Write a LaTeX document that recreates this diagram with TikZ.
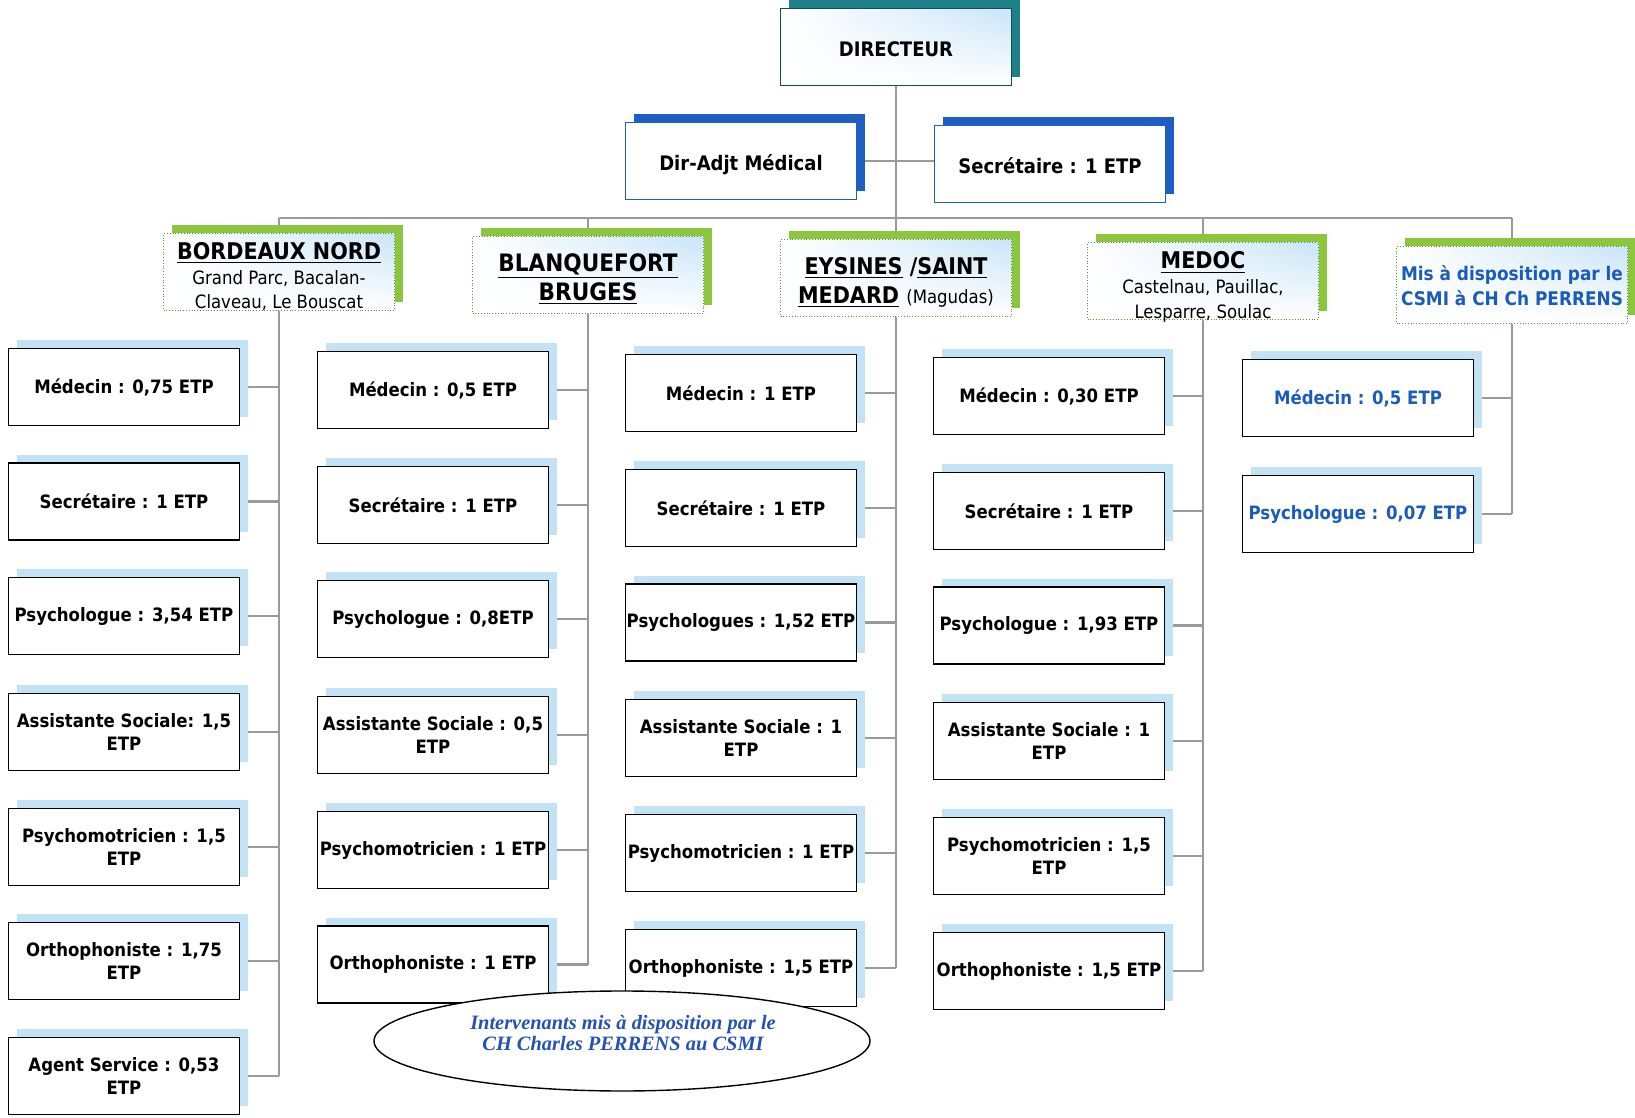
\documentclass[tikz,border=0pt]{standalone}
\usepackage{fontspec}
\setmainfont{DejaVu Sans Condensed}
\newfontfamily\noteserif{Liberation Serif}
\usetikzlibrary{shapes.geometric,shadows,shadings,backgrounds}

\definecolor{linkgray}{HTML}{9A9A9A}
\definecolor{dirteal}{HTML}{1E8088}
\definecolor{adjblue}{HTML}{1F5FC4}
\definecolor{sitegreen}{HTML}{8CC63F}
\definecolor{staffsky}{HTML}{C2E2F6}
\definecolor{tintblue}{HTML}{C9E4F8}
\definecolor{textblue}{HTML}{1A5CB8}
\definecolor{noteblue}{HTML}{2452B2}

% text set lower in its box, box size kept
\newcommand{\lowered}[2][3pt]{\raisebox{-#1}[\height][\depth]{\begin{tabular}{@{}c@{}}#2\end{tabular}}}

\begin{document}
\begin{tikzpicture}[x=0.5pt, y=-0.5pt,
		box/.style={minimum width=115.5pt, minimum height=38.5pt, inner xsep=0pt, inner ysep=0pt, align=center},
		staffbox/.style={box, draw=black, line width=0.7pt, fill=white, font=\bfseries\fontsize{9.2}{11.8}\selectfont,
			copy shadow={shadow xshift=4.2pt, shadow yshift=4.2pt, draw=none, fill=staffsky}},
		dirbox/.style={box, draw=dirteal!60!black, line width=0.5pt, upper right=tintblue, upper left=white, lower left=white, lower right=white,
			font=\bfseries\fontsize{10}{12}\selectfont,
			copy shadow={shadow xshift=4.2pt, shadow yshift=4.2pt, draw=none, fill=dirteal}},
		adjbox/.style={box, draw=adjblue, line width=0.5pt, fill=white, font=\bfseries\fontsize{10}{12}\selectfont,
			copy shadow={shadow xshift=4.2pt, shadow yshift=4.2pt, draw=none, fill=adjblue}},
		sitebox/.style={box, draw=sitegreen!70!black, densely dotted, line width=0.4pt, upper right=tintblue, upper left=white, lower left=white, lower right=white,
			font=\fontsize{9.2}{12.3}\selectfont,
			copy shadow={shadow xshift=4.2pt, shadow yshift=4.2pt, draw=none, fill=sitegreen, solid}},
		link/.style={draw=linkgray, line width=1.4pt},
		notebox/.style={shape=ellipse, draw=black, line width=0.7pt, fill=white, minimum width=248pt, minimum height=50pt},
		notetext/.style={align=center, text=noteblue, font=\noteserif\bfseries\itshape\fontsize{10.2}{10.5}\selectfont}]
	\useasboundingbox (0,0) rectangle (1635,1118);
	\clip (0,0) rectangle (1635,1118);
	
	% direction
	\node[dirbox] (dir) at (896,47) {\lowered[2.6pt]{DIRECTEUR}};
	\node[adjbox] (adj) at (741,161) {\lowered[2.2pt]{Dir-Adjt Médical}};
	\node[adjbox] (sec) at (1050,164) {\lowered[2.2pt]{Secrétaire : 1 ETP}};
	\coordinate (bus) at (896,218);
	
	% sites
	\node[sitebox] (bn) at (279,272) {\lowered[3.6pt]{{\bfseries\fontsize{11.5}{12.5}\selectfont\underline{BORDEAUX NORD}}\\Grand Parc, Bacalan-\\Claveau, Le Bouscat}};
	\node[sitebox, font=\bfseries\fontsize{12}{14.6}\selectfont] (bl) at (588,275) {\lowered[2.5pt]{\underline{BLANQUEFORT}\\\underline{BRUGES}}};
	\node[sitebox, font=\bfseries\fontsize{11.5}{14.6}\selectfont] (ey) at (896,278) {\lowered[2.5pt]{\underline{EYSINES} /\underline{SAINT}\\\underline{MEDARD} {\mdseries\fontsize{9.2}{12}\selectfont(Magudas)}}};
	\node[sitebox] (md) at (1203,281) {\lowered[3.8pt]{{\bfseries\fontsize{11.5}{12.5}\selectfont\underline{MEDOC}}\\Castelnau, Pauillac,\\Lesparre, Soulac}};
	\node[sitebox, text=textblue, font=\bfseries\fontsize{9.4}{12.6}\selectfont] (mi) at (1512,285) {\lowered[1.6pt]{Mis à disposition par le\\CSMI à CH Ch PERRENS}};
	
	% BORDEAUX NORD
	\node[staffbox] (bn1) at (124,387) {Médecin : 0,75 ETP};
	\node[staffbox] (bn2) at (124,501.5) {Secrétaire : 1 ETP};
	\node[staffbox] (bn3) at (124,616) {Psychologue : 3,54 ETP};
	\node[staffbox] (bn4) at (124,732) {Assistante Sociale: 1,5\\ETP};
	\node[staffbox] (bn5) at (124,847) {Psychomotricien : 1,5\\ETP};
	\node[staffbox] (bn6) at (124,961) {Orthophoniste : 1,75\\ETP};
	\node[staffbox] (bn7) at (124,1076) {Agent Service : 0,53\\ETP};
	
	% BLANQUEFORT BRUGES
	\node[staffbox] (bl1) at (433,390) {Médecin : 0,5 ETP};
	\node[staffbox] (bl2) at (433,505) {Secrétaire : 1 ETP};
	\node[staffbox] (bl3) at (433,619) {Psychologue : 0,8ETP};
	\node[staffbox] (bl4) at (433,735) {Assistante Sociale : 0,5\\ETP};
	\node[staffbox] (bl5) at (433,850) {Psychomotricien : 1 ETP};
	\node[staffbox] (bl6) at (433,964.5) {Orthophoniste : 1 ETP};
	
	% EYSINES / SAINT MEDARD
	\node[staffbox] (ey1) at (741,393) {Médecin : 1 ETP};
	\node[staffbox] (ey2) at (741,508) {Secrétaire : 1 ETP};
	\node[staffbox] (ey3) at (741,622.5) {Psychologues : 1,52 ETP};
	\node[staffbox] (ey4) at (741,738) {Assistante Sociale : 1\\ETP};
	\node[staffbox] (ey5) at (741,853) {Psychomotricien : 1 ETP};
	\node[staffbox] (ey6) at (741,968) {Orthophoniste : 1,5 ETP};
	
	% MEDOC
	\node[staffbox] (md1) at (1049,396) {Médecin : 0,30 ETP};
	\node[staffbox] (md2) at (1049,511) {Secrétaire : 1 ETP};
	\node[staffbox] (md3) at (1049,625.5) {Psychologue : 1,93 ETP};
	\node[staffbox] (md4) at (1049,741) {Assistante Sociale : 1\\ETP};
	\node[staffbox] (md5) at (1049,856) {Psychomotricien : 1,5\\ETP};
	\node[staffbox] (md6) at (1049,971) {Orthophoniste : 1,5 ETP};
	
	% mis a disposition
	\node[staffbox, text=textblue] (mi1) at (1358,398) {Médecin : 0,5 ETP};
	\node[staffbox, text=textblue] (mi2) at (1358,514) {Psychologue : 0,07 ETP};
	
	\node[notebox] (note) at (622,1041) {};
	\node[notetext] (notetxt) at (623,1033) {Intervenants mis à disposition par le\\CH Charles PERRENS au CSMI};
	
	\begin{scope}[on background layer]
		\path[link] (dir.south) edge (dir.south |- bus);
		\path[link] (adj.east) edge (adj.east -| sec.west);
		\path[link] (bn.north |- bus) edge (mi.north |- bus);
		
		\path[link] (bn.north |- bus) edge (bn.south |- bn7.east);
		\path[link] (bl.north |- bus) edge (bl.south |- bl6.east);
		\path[link] (ey.north |- bus) edge (ey.south |- ey6.east);
		\path[link] (md.north |- bus) edge (md.south |- md6.east);
		\path[link] (mi.north |- bus) edge (mi.south |- mi2.east);
		
		\path[link] (bn1.east) edge (bn1.east -| bn.south);
		\path[link] (bn2.east) edge (bn2.east -| bn.south);
		\path[link] (bn3.east) edge (bn3.east -| bn.south);
		\path[link] (bn4.east) edge (bn4.east -| bn.south);
		\path[link] (bn5.east) edge (bn5.east -| bn.south);
		\path[link] (bn6.east) edge (bn6.east -| bn.south);
		\path[link] (bn7.east) edge (bn7.east -| bn.south);
		
		\path[link] (bl1.east) edge (bl1.east -| bl.south);
		\path[link] (bl2.east) edge (bl2.east -| bl.south);
		\path[link] (bl3.east) edge (bl3.east -| bl.south);
		\path[link] (bl4.east) edge (bl4.east -| bl.south);
		\path[link] (bl5.east) edge (bl5.east -| bl.south);
		\path[link] (bl6.east) edge (bl6.east -| bl.south);
		
		\path[link] (ey1.east) edge (ey1.east -| ey.south);
		\path[link] (ey2.east) edge (ey2.east -| ey.south);
		\path[link] (ey3.east) edge (ey3.east -| ey.south);
		\path[link] (ey4.east) edge (ey4.east -| ey.south);
		\path[link] (ey5.east) edge (ey5.east -| ey.south);
		\path[link] (ey6.east) edge (ey6.east -| ey.south);
		
		\path[link] (md1.east) edge (md1.east -| md.south);
		\path[link] (md2.east) edge (md2.east -| md.south);
		\path[link] (md3.east) edge (md3.east -| md.south);
		\path[link] (md4.east) edge (md4.east -| md.south);
		\path[link] (md5.east) edge (md5.east -| md.south);
		\path[link] (md6.east) edge (md6.east -| md.south);
		
		\path[link] (mi1.east) edge (mi1.east -| mi.south);
		\path[link] (mi2.east) edge (mi2.east -| mi.south);
	\end{scope}
	
\end{tikzpicture}
\end{document}
